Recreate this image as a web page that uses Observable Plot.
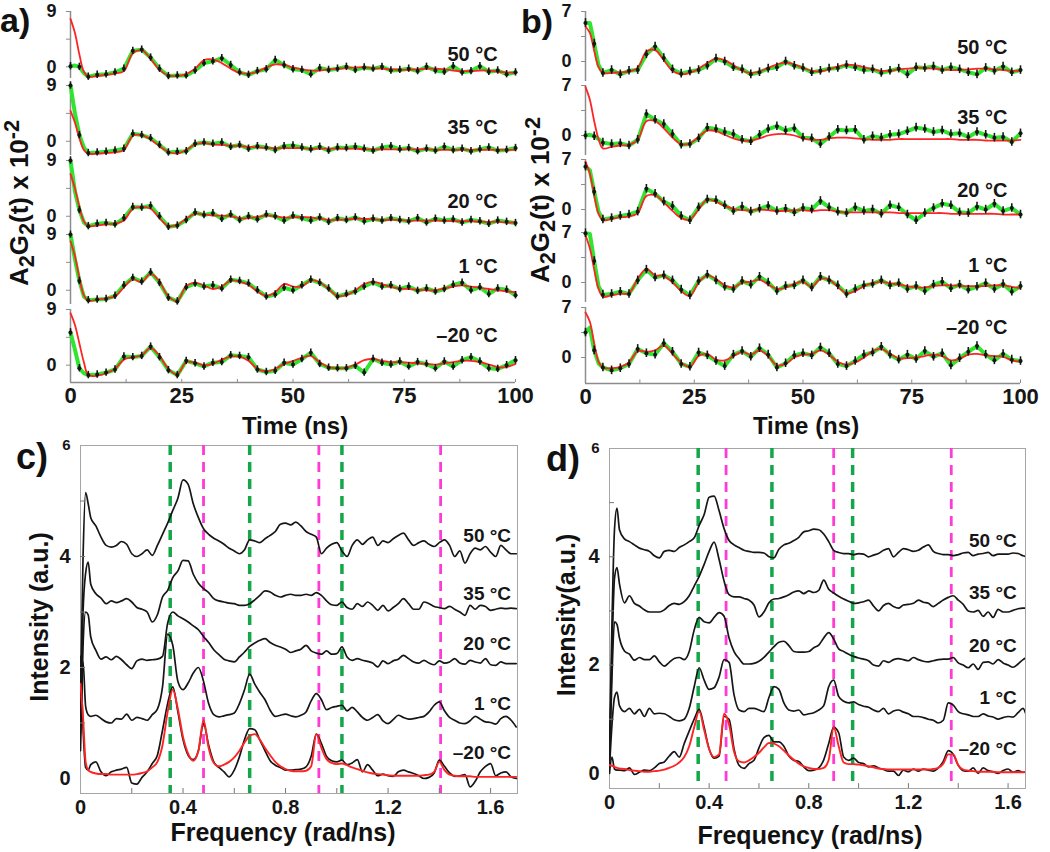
<!DOCTYPE html>
<html><head><meta charset="utf-8">
<script src="https://cdn.jsdelivr.net/npm/d3@7"></script>
<script src="https://cdn.jsdelivr.net/npm/@observablehq/plot@0.6"></script>
<style>
body{margin:0;background:#fff;}
#fig{position:relative;width:1050px;height:852px;overflow:hidden;font-family:"Liberation Sans",Arial,sans-serif;font-weight:bold;color:#111;}
#fig svg{position:absolute;overflow:visible;}
.lbl{position:absolute;white-space:nowrap;line-height:1.15;}
.rot{transform:translate(-50%,-50%) rotate(-90deg);}
.ctr{transform:translate(-50%,-50%);}
</style></head><body><div id="fig"></div>
<script>
// ---------------- data ----------------
const T = [0,1,2,3,4,6,8,10,12,14,16,18,20,22,24,26,28,30,32,34,36,38,40,42,44,46,48,50,52,54,56,58,60,62,64,66,68,70,72,74,76,78,80,82,84,86,88,90,92,94,96,98,100];
const temps = ["50 °C","35 °C","20 °C","1 °C","–20 °C"];

const a50fit = [7.8,5.5,2.0,-0.8,-1.6, -1.5,-1.3,-1.1,-0.7,2.2,2.7,1.3,-0.5,-1.4,-1.5, -1.2,-0.3,1.1,1.2,0.6,-0.3,-1.0,-1.1,-0.8,-0.1, 0.4,0.3,-0.1,-0.4,-0.6,-0.6,-0.4,-0.3,-0.2,-0.1, -0.1,-0.2,-0.3,-0.4,-0.5,-0.5,-0.4,-0.3,-0.3,-0.4, -0.6,-0.7,-0.7,-0.6,-0.6,-0.8,-0.9,-1.0];
const a50data = [0.1,0.2,0.0,-1.0,-1.6, -1.3,-1.2,-0.9,-0.3,2.6,2.8,1.5,-0.3,-1.5,-1.4, -1.4,-0.6,0.6,0.9,1.4,0.3,-0.9,-1.3,-0.7,-0.4, 1.1,0.3,-0.4,-0.5,-1.2,-0.2,-0.5,-0.3,0.0,-0.5, -0.1,-0.3,0.0,-0.6,-0.5,-0.3,-0.7,0.0,-0.6,-0.8, 0.1,-0.9,-0.7,0.1,-0.8,-0.6,-1.2,-0.9];
const a35fit = [4.9,3.0,0.5,-1.4,-2.0, -2.0,-1.9,-1.8,-1.4,0.9,1.0,0.3,-0.8,-1.7,-2.0, -1.4,-0.5,-0.3,-0.5,-0.6,-0.7,-0.8,-0.9,-1.0,-1.1, -1.1,-1.1,-1.1,-1.1,-1.2,-1.2,-1.2,-1.2,-1.2,-1.2, -1.3,-1.3,-1.3,-1.3,-1.3,-1.3,-1.3,-1.3,-1.4,-1.4, -1.4,-1.4,-1.4,-1.4,-1.4,-1.4,-1.4,-1.4];
const a35data = [9.0,4.5,1.0,-1.0,-1.9, -1.8,-1.7,-1.5,-1.2,1.2,1.0,0.5,-0.6,-1.8,-1.7, -1.6,-0.4,-0.2,-0.4,-0.2,-0.9,-0.6,-1.2,-0.8,-1.0, -1.4,-0.8,-0.7,-1.0,-1.3,-0.9,-1.5,-1.0,-1.1,-0.9, -1.2,-1.5,-1.0,-0.8,-1.3,-1.1,-1.6,-1.2,-1.5,-0.9, -1.4,-1.2,-1.6,-1.3,-1.0,-1.5,-1.4,-1.1];
const a20fit = [6.8,4.5,1.5,-0.8,-1.6, -1.5,-1.3,-1.2,-0.7,1.2,1.5,1.2,-0.3,-1.6,-1.4, -0.4,0.4,0.3,0.1,0.1,0.0,-0.3,-0.3,-0.1,0.1, 0.0,-0.2,-0.2,-0.1,-0.2,-0.4,-0.6,-0.6,-0.5,-0.4, -0.4,-0.5,-0.6,-0.6,-0.6,-0.7,-0.7,-0.7,-0.7,-0.7, -0.8,-0.8,-0.8,-0.9,-0.9,-0.9,-1.0,-1.0];
const a20data = [9.0,4.0,1.0,-1.0,-1.6, -1.2,-1.1,-1.3,-0.3,1.5,1.4,1.7,0.0,-1.7,-1.5, -0.6,0.6,0.2,0.5,-0.4,0.3,-0.6,0.0,-0.5,0.3, 0.0,-0.7,0.1,-0.3,-0.7,-0.2,-0.9,-0.3,-0.6,-0.2, -0.8,-0.4,-0.7,-0.3,-0.6,-0.8,-0.3,-1.0,-0.4,-0.7, -0.5,-1.0,-0.6,-0.8,-1.2,-0.7,-0.9,-1.1];
const a1fit = [7.9,5.5,2.0,-0.8,-1.7, -1.5,-1.3,-1.0,0.5,1.8,1.3,2.7,1.4,-1.0,-1.7, 0.7,1.2,0.8,0.2,0.6,1.6,1.4,0.9,-0.2,-0.9, -0.3,1.0,0.6,0.6,1.6,1.3,0.2,-0.9,-0.8,0.0, 1.0,1.4,1.0,0.5,0.3,0.2,0.1,0.0,0.0,0.3, 0.6,0.8,0.6,0.4,0.2,0.0,-0.2,-0.3];
const a1data = [9.0,5.0,1.5,-1.0,-1.6, -1.5,-1.4,-0.9,0.8,2.0,1.4,2.9,1.2,-1.2,-1.8, 0.5,1.1,0.6,0.8,0.3,1.7,1.5,1.1,0.0,-1.0, -0.7,0.4,0.0,0.8,1.7,1.2,0.3,-1.0,-0.6,-0.2, 0.6,1.3,0.6,0.8,0.2,0.6,-0.1,0.3,-0.2,0.2, 0.9,1.2,0.0,0.5,-0.6,0.3,0.1,-0.8];
const am20fit = [8.4,6.5,3.5,0.5,-1.6, -1.7,-1.3,-0.6,0.9,1.3,1.6,2.8,1.5,-0.6,-1.5, 0.5,0.4,0.0,0.2,0.9,1.4,1.4,0.7,-0.6,-1.0, -0.6,0.2,0.7,1.2,1.5,0.5,-0.3,-0.5,-0.4,0.1, 0.8,1.0,0.7,0.5,0.5,0.4,0.3,0.2,0.1,0.3, 0.5,0.7,0.7,0.5,0.1,-0.3,-0.3,0.2];
const am20data = [5.3,2.5,-0.5,-1.3,-1.6, -1.5,-1.2,-0.7,1.4,1.3,1.5,3.0,1.3,-0.8,-1.6, 0.7,0.3,-0.2,0.4,0.5,1.6,1.5,1.3,-0.7,-1.1, -0.9,0.4,0.1,1.0,2.0,0.2,-0.4,-0.5,-0.5,-0.1, -1.2,1.0,0.4,0.1,0.6,-0.2,0.5,0.2,-0.5,0.6, -0.2,0.8,1.3,0.6,-0.5,-0.6,0.0,0.8];

const b50fit = [4.9,4.0,1.5,-0.8,-1.6, -1.6,-1.5,-1.4,-0.9,1.4,1.6,0.2,-1.3,-1.8,-1.6, -1.0,-0.2,0.4,0.2,-0.5,-1.3,-1.6,-1.4,-0.9,-0.4, -0.2,-0.4,-0.9,-1.3,-1.4,-1.1,-0.7,-0.5,-0.5,-0.8, -1.1,-1.3,-1.3,-1.1,-1.0,-0.9,-0.9,-1.0,-1.1,-1.2, -1.2,-1.1,-1.0,-1.0,-1.1,-1.2,-1.3,-1.3];
const b50data = [5.4,5.4,2.5,-0.5,-1.6, -1.2,-1.8,-1.3,-1.2,1.0,2.1,0.5,-1.1,-1.7,-1.4, -1.2,-0.6,0.4,0.0,-0.8,-1.1,-1.8,-1.5,-1.0,-0.8, 0.0,-0.6,-0.9,-1.5,-1.3,-1.0,-0.9,-0.5,-0.8,-1.2, -1.1,-1.6,-1.3,-1.0,-1.8,-0.8,-0.9,-0.7,-1.2,-0.8, -1.1,-1.5,-1.8,-0.9,-1.3,-0.7,-1.5,-1.2];
const b35fit = [6.8,5.0,2.0,-0.5,-1.8, -1.6,-1.4,-1.3,-0.6,2.0,2.0,1.0,-0.3,-1.2,-1.1, -0.2,0.7,0.6,0.1,-0.4,-0.7,-0.7,-0.4,0.0,0.2, 0.2,0.0,-0.4,-0.6,-0.6,-0.4,-0.3,-0.3,-0.4,-0.5, -0.6,-0.6,-0.6,-0.5,-0.5,-0.5,-0.5,-0.5,-0.5,-0.5, -0.6,-0.6,-0.6,-0.7,-0.7,-0.7,-0.7,-0.6];
const b35data = [0.0,0.1,-0.1,-0.5,-1.0, -1.2,-1.1,-1.4,-0.6,3.0,2.2,1.6,0.2,-1.3,-1.2, -0.4,1.1,0.9,0.5,0.2,-0.6,-0.8,0.1,0.9,1.3, 0.7,1.0,-0.3,-0.4,-1.2,-0.2,0.8,0.7,0.8,-0.6, -0.1,-0.3,0.1,0.2,0.6,1.1,0.9,0.5,0.7,0.2, 0.3,-0.2,0.5,0.1,-0.3,-0.2,-0.9,0.3];
const b20fit = [6.7,5.0,2.0,-0.6,-1.5, -1.3,-1.1,-1.0,-0.5,1.9,2.0,1.0,-0.2,-1.2,-1.4, 0.0,1.4,1.1,0.5,0.1,-0.1,-0.1,0.0,-0.1,-0.2, -0.2,-0.1,-0.1,-0.2,-0.1,-0.1,-0.3,-0.4,-0.4,-0.4, -0.4,-0.4,-0.4,-0.5,-0.5,-0.5,-0.5,-0.5,-0.5,-0.6, -0.6,-0.6,-0.6,-0.6,-0.6,-0.7,-0.7,-0.7];
const b20data = [6.0,5.5,2.5,-0.3,-1.4, -1.2,-0.9,-0.7,-0.3,2.9,2.2,1.1,0.5,-0.9,-1.5, 0.3,1.4,1.3,0.6,-0.2,0.4,-0.3,0.1,0.5,-0.2, 0.1,-0.4,0.2,0.0,1.2,0.3,-0.3,-0.5,0.3,-0.2, 0.0,-0.6,0.6,0.3,-0.7,-1.5,-0.5,0.2,0.8,0.6, -0.4,-0.5,0.4,0.0,0.8,-0.2,0.2,-0.7];
const b1fit = [6.6,4.8,1.8,-0.9,-2.0, -1.8,-1.6,-1.5,0.5,1.9,1.0,0.9,0.0,-1.2,-1.9, 0.0,1.0,0.5,-0.4,-0.7,0.0,0.1,0.4,-0.3,-0.9, -0.7,-0.2,0.1,-0.6,0.5,0.4,-0.6,-1.5,-1.2,-0.5, -0.1,0.1,-0.1,-0.3,-0.5,-0.7,-0.7,-0.5,-0.4,-0.4, -0.5,-0.5,-0.5,-0.5,-0.4,-0.4,-0.6,-0.8];
const b1data = [6.9,6.8,3.0,-0.5,-1.7, -1.6,-1.3,-1.6,0.3,1.8,0.7,1.0,0.3,-1.0,-1.8, 0.2,1.1,0.3,-0.6,-0.9,0.2,-0.3,0.8,0.0,-1.2, -0.5,-0.4,0.3,-0.7,0.8,0.3,-0.4,-1.6,-0.9,-0.4, -0.2,0.3,-0.4,-0.1,-0.9,-0.5,-1.2,-0.3,0.1,-0.8, -0.3,-1.0,-0.6,-0.1,-0.9,-0.2,-1.3,-0.5];
const bm20fit = [6.3,5.0,2.0,-0.6,-1.4, -1.5,-1.3,-0.7,0.9,0.8,1.0,1.7,0.5,-0.7,-1.3, 0.2,0.5,-0.3,-0.4,0.2,0.8,0.4,1.0,0.2,-1.1, -0.9,0.0,0.4,0.5,1.0,0.4,-0.6,-1.0,-0.7,0.0, 0.9,1.2,0.5,-0.1,-0.1,0.0,0.2,0.4,0.2,-0.4, -0.2,0.4,0.5,0.3,0.2,0.1,-0.4,-0.6];
const bm20data = [3.5,4.2,1.0,-0.8,-1.4, -1.8,-1.5,-0.9,1.2,0.6,0.4,2.0,0.8,-0.9,-1.3, 0.7,0.3,-0.5,-1.2,0.4,0.9,0.1,1.3,0.4,-1.4, -0.8,0.3,0.6,0.3,1.4,0.6,-0.9,-1.2,-0.5,0.4, 0.7,1.5,0.4,-0.3,0.4,-0.2,0.9,0.1,0.6,-1.1, -0.1,0.8,1.6,0.4,-0.4,0.5,-0.3,-0.5];

// frequency grid (rad/ns)
const F = [0,0.01,0.02,0.03,0.04, 0.06,0.08,0.10,0.12,0.14,0.16,0.18,0.20,0.22,0.24, 0.26,0.28,0.30,0.32,0.34,0.36,0.38,0.40,0.42,0.44, 0.46,0.48,0.50,0.52,0.54,0.56,0.58,0.60,0.62,0.64, 0.66,0.68,0.70,0.72,0.74,0.76,0.78,0.80,0.82,0.84, 0.86,0.88,0.90,0.92,0.94,0.96,0.98,1.00,1.02,1.04, 1.06,1.08,1.10,1.12,1.14,1.16,1.18,1.20,1.22,1.24, 1.26,1.28,1.30,1.32,1.34,1.36,1.38,1.40,1.42,1.44, 1.46,1.48,1.50,1.52,1.54,1.56,1.58,1.60,1.62,1.64, 1.66,1.68,1.70];

const c50 = [1.5,4.0,5.15,4.95,4.7, 4.55,4.35,4.2,4.17,4.2,4.27,4.22,4.05,4.0,4.05, 4.12,4.02,4.2,4.4,4.6,4.83,5.05,5.38,5.3,4.95, 4.7,4.5,4.4,4.33,4.28,4.22,4.15,4.1,4.05,4.12, 4.3,4.28,4.25,4.32,4.38,4.45,4.58,4.6,4.57,4.62, 4.55,4.45,4.4,4.35,4.05,4.15,4.22,4.25,4.1,4.0, 4.2,4.3,4.22,4.3,4.35,4.2,4.28,4.25,4.32,4.38, 4.42,4.3,4.2,4.25,4.28,4.22,4.18,4.25,4.3,4.2, 4.0,4.1,3.88,4.05,4.15,4.12,4.18,4.08,4.0,4.2, 4.12,4.05,4.05];
const c35 = [1.0,3.0,3.7,3.9,3.5, 3.33,3.25,3.15,3.2,3.17,3.2,3.24,3.18,3.08,3.05, 3.0,2.82,2.95,3.27,3.39,3.62,3.74,3.93,3.92,3.68, 3.52,3.42,3.35,3.24,3.2,3.18,3.16,3.15,3.12,3.12, 3.15,3.22,3.3,3.38,3.36,3.3,3.27,3.3,3.32,3.3, 3.3,3.32,3.3,3.35,3.3,3.2,3.13,3.12,3.18,3.08, 3.05,3.15,3.1,3.18,3.12,3.03,3.12,3.02,3.08,3.15, 3.24,3.15,3.05,3.05,3.18,3.15,3.1,3.08,3.06,3.1, 3.05,3.0,2.94,3.12,3.05,3.12,3.1,3.03,3.05,3.07, 3.06,3.07,3.06];
const c20 = [0.5,2.4,3.0,2.95,2.55, 2.31,2.15,2.19,2.14,2.2,2.14,2.05,1.98,2.12,2.15, 2.13,2.14,2.15,2.2,2.8,3.0,2.93,2.88,2.82,2.75, 2.68,2.56,2.45,2.32,2.23,2.15,2.12,2.1,2.19,2.28, 2.38,2.44,2.49,2.52,2.45,2.4,2.37,2.33,2.27,2.3, 2.33,2.4,2.3,2.26,2.24,2.3,2.24,2.25,2.37,2.19, 2.13,2.16,2.13,2.11,2.08,2.01,2.12,2.07,2.12,2.15, 2.22,2.16,2.1,2.08,2.13,2.08,2.05,2.12,2.08,2.1, 2.16,2.08,2.06,2.13,2.1,2.08,2.16,2.05,2.04,2.1, 2.07,2.07,2.07];
const c1 = [0.8,2.1,1.3,1.15,1.12, 1.14,1.08,1.02,1.0,1.08,1.07,1.16,1.05,1.1,1.08, 1.05,1.15,1.25,1.65,2.6,2.4,1.75,1.6,1.72,1.9, 2.0,1.75,1.35,1.15,1.11,1.13,1.15,1.18,1.35,1.6, 1.88,1.7,1.55,1.42,1.23,1.12,1.14,1.16,1.13,1.11, 1.14,1.2,1.4,1.53,1.42,1.24,1.28,1.3,1.32,1.22, 1.28,1.2,1.1,1.05,1.1,1.15,1.04,0.99,1.06,1.14, 1.1,1.07,1.08,1.1,1.12,1.2,1.32,1.38,1.22,1.1, 1.05,1.0,0.99,1.04,1.12,1.07,1.02,1.01,0.98,1.08, 1.12,1.05,0.93];
const cm20 = [2.2,0.9,0.2,0.15,0.25, 0.3,0.12,0.05,0.12,0.15,0.17,0.2,-0.08,-0.1,0.02, 0.12,0.27,0.42,0.87,1.35,1.65,1.2,0.7,0.42,0.34, 0.5,0.99,0.6,0.3,0.2,0.12,0.03,0.15,0.39,0.7, 0.9,0.88,0.69,0.5,0.32,0.24,0.2,0.15,0.15,0.16, 0.17,0.21,0.4,0.8,0.63,0.4,0.32,0.3,0.33,0.25, 0.28,0.34,0.12,0.25,0.15,0.05,0.08,0.05,0.04,0.12, 0.15,0.12,0.09,0.05,0.0,0.02,0.1,0.33,0.22,0.1, 0.04,0.05,0.07,-0.15,-0.05,0.12,0.22,0.27,0.05,0.1, 0.12,0.03,0.0];
const cFit = [1.71,1.1,0.3,0.15,0.12, 0.09,0.08,0.08,0.07,0.07,0.07,0.07,0.07,0.08,0.1, 0.13,0.2,0.3,0.6,1.2,1.6,1.25,0.75,0.45,0.32, 0.5,1.05,0.55,0.28,0.22,0.25,0.3,0.38,0.5,0.65, 0.77,0.8,0.7,0.55,0.42,0.3,0.22,0.17,0.14,0.13, 0.13,0.14,0.22,0.8,0.55,0.35,0.28,0.26,0.27,0.24, 0.2,0.17,0.14,0.11,0.09,0.08,0.07,0.06,0.05,0.05, 0.05,0.05,0.05,0.05,0.06,0.07,0.12,0.3,0.15,0.07, 0.05,0.04,0.04,0.04,0.03,0.03,0.03,0.03,0.03,0.03, 0.03,0.03,0.03];

const d50 = [0.5,2.8,4.5,4.9,4.5, 4.33,4.28,4.22,4.16,4.13,4.1,4.02,3.98,4.1,4.12, 4.1,4.17,4.22,4.28,4.35,4.58,4.78,5.1,5.12,4.85, 4.52,4.3,4.22,4.17,4.12,4.1,4.08,4.08,4.07,4.0, 3.98,4.14,4.22,4.25,4.3,4.36,4.46,4.48,4.51,4.5, 4.42,4.28,4.12,4.08,4.06,4.06,4.04,4.06,4.05,4.0, 4.03,4.06,4.12,4.15,4.0,4.08,4.15,4.13,4.1,4.12, 4.18,4.22,4.1,4.06,4.04,4.04,4.02,4.04,4.07,4.08, 4.02,4.05,4.06,4.08,4.02,4.05,4.05,4.05,4.07,4.06, 4.02,4.0,4.0];
const d35 = [0.3,2.2,3.6,3.8,3.5, 3.15,3.28,3.14,3.09,3.02,2.98,2.98,2.98,3.02,3.1, 3.14,3.12,3.17,3.28,3.46,3.64,3.86,4.1,4.27,3.95, 3.55,3.3,3.26,3.26,3.23,3.2,3.11,2.89,2.98,3.15, 3.22,3.23,3.26,3.3,3.35,3.37,3.32,3.37,3.34,3.38, 3.57,3.4,3.33,3.27,3.22,3.18,3.14,3.15,3.17,3.2, 3.09,3.0,3.1,3.14,3.08,3.05,3.11,3.12,3.14,3.2, 3.16,3.14,3.08,3.14,3.2,3.25,3.28,3.2,3.12,3.0, 2.98,3.01,2.9,2.98,2.88,3.03,2.98,2.98,3.01,3.04, 3.05,3.05,3.05];
const d20 = [0.2,1.8,2.8,2.75,2.5, 2.26,2.2,2.09,2.14,2.1,2.1,2.17,2.06,1.98,2.05, 2.12,2.14,2.1,2.25,2.65,2.88,2.8,2.78,2.88,2.97, 2.9,2.5,2.25,2.12,2.02,2.02,2.03,2.07,2.14,2.24, 2.34,2.42,2.44,2.36,2.25,2.24,2.24,2.25,2.32,2.37, 2.5,2.6,2.48,2.3,2.25,2.2,2.16,2.13,2.11,2.08, 2.0,1.98,2.08,2.05,2.1,2.12,2.1,2.08,2.14,2.1, 2.07,2.06,2.08,2.1,2.11,2.11,2.14,2.04,2.0,1.95, 2.02,1.92,2.05,2.06,2.02,2.1,2.04,2.0,1.96,2.02, 2.1,2.15,2.15];
const d1 = [0.1,0.9,1.4,1.5,1.25, 1.14,1.2,1.1,1.18,1.05,1.2,1.1,1.11,1.1,1.05, 0.99,0.97,1.0,1.2,1.6,1.95,1.72,1.55,1.58,1.78, 2.1,2.05,1.45,1.17,1.14,1.2,1.2,1.17,1.14,1.4, 1.6,1.55,1.3,1.17,1.15,1.17,1.08,1.1,1.12,1.17, 1.25,1.6,1.72,1.42,1.33,1.3,1.32,1.27,1.24,1.22, 1.17,1.14,1.2,1.1,1.15,1.17,1.13,1.1,1.05,1.05, 1.03,1.0,0.98,0.93,0.98,1.3,1.26,1.14,1.1,1.08, 1.05,1.05,1.1,1.06,1.04,1.0,1.03,1.05,1.04,1.12, 1.2,1.02,1.0];
const dm20 = [0.0,0.3,0.08,0.06,0.06, 0.05,0.1,-0.02,0.02,0.06,0.05,0.1,0.18,0.21,0.32, 0.4,0.3,0.55,0.78,1.0,1.18,0.85,0.45,0.28,0.32, 1.05,1.0,0.45,0.15,0.09,0.18,0.24,0.47,0.66,0.7, 0.58,0.58,0.5,0.32,0.24,0.22,0.12,0.05,0.06,0.1, 0.25,0.55,0.85,0.75,0.3,0.24,0.28,0.2,0.18,0.12, 0.14,0.1,0.07,0.04,0.04,-0.04,0.06,0.03,0.08,0.04, 0.08,0.06,0.04,0.1,0.22,0.42,0.35,0.15,0.05,0.04, 0.1,0.0,0.1,0.05,0.03,0.0,0.05,0.08,0.02,0.05, 0.02,0.03,0.03];
const dFit = [0.15,0.14,0.12,0.1,0.09, 0.08,0.06,0.05,0.04,0.03,0.03,0.04,0.05,0.07,0.1, 0.14,0.2,0.3,0.5,0.85,1.15,0.8,0.45,0.3,0.35, 1.1,0.9,0.4,0.22,0.2,0.24,0.3,0.38,0.48,0.56, 0.55,0.5,0.42,0.33,0.25,0.18,0.13,0.1,0.08,0.08, 0.1,0.25,0.85,0.5,0.2,0.17,0.17,0.16,0.15,0.13, 0.11,0.09,0.08,0.07,0.07,0.07,0.07,0.07,0.07,0.07, 0.07,0.07,0.08,0.1,0.18,0.35,0.35,0.15,0.07,0.05, 0.04,0.03,0.03,0.03,0.03,0.02,0.02,0.02,0.02,0.02, 0.02,0.02,0.02];

// reference frequencies (dashed lines)
const cGreen = [0.35, 0.66, 1.02], cMagenta = [0.48, 0.93, 1.405];
const dGreen = [0.356, 0.652, 0.976], dMagenta = [0.468, 0.90, 1.372];
const timeTicks = [0, 25, 50, 75, 100];
const freqTicks = [0, 0.4, 0.8, 1.2, 1.6];
const intensityTicks = [0, 2, 4, 6];

// ---------------- layout ----------------
const FONT = '"Liberation Sans", Arial, sans-serif';
const fig = document.getElementById("fig");
const GREEN = "#2fe52f", RED = "#ff2424", INK = "#161616", AXIS = "#8c8c8c";

function place(svg, left, top) { svg.style.left = left + "px"; svg.style.top = top + "px"; fig.appendChild(svg); }
function label(html, x, y, size, cls) {
  const d = document.createElement("div");
  d.className = "lbl " + cls; d.innerHTML = html;
  d.style.left = x + "px"; d.style.top = y + "px"; d.style.fontSize = size + "px";
  fig.appendChild(d);
}

const bad = [];
function timeSub(L, i, data, fit) {
  if (data.length !== T.length || fit.length !== T.length) bad.push(L.name + i);
  const last = i === 4;
  const mT = 10, mB = last ? 44 : 4, mR = 20;
  const h = last ? L.lastH : (i === 0 ? L.firstH : L.plotH);
  const yMin = last ? L.lastYMin : (i === 0 ? L.firstYMin : L.yMin);
  const idx = T.map((t, k) => k).filter(k => T[k] % 2 === 0);
  const marks = [
    Plot.ruleX([0], {stroke: AXIS, strokeWidth: 1.5}),
    Plot.axisY([0, L.yTop], {tickSize: 4, tickPadding: 10, stroke: AXIS, fill: INK, fontSize: 18}),
    Plot.axisY([L.yTop / 2], {tickSize: 4, tickFormat: () => "", stroke: AXIS}),
    Plot.line(T, {x: T, y: data, stroke: GREEN, strokeWidth: 4, strokeLinejoin: "round"}),
    Plot.line(T, {x: T, y: fit, stroke: RED, strokeWidth: 1.8, curve: "catmull-rom"}),
    Plot.ruleX(idx, {x: k => T[k], y1: k => data[k] - 0.6, y2: k => data[k] + 0.6, stroke: INK, strokeWidth: 1.6}),
    Plot.dot(idx, {x: k => T[k], y: k => data[k], r: 2, fill: INK}),
    Plot.text([temps[i]], {x: L.labelX, y: L.labelY[i], text: d => d, textAnchor: "end", fontSize: 20, fill: INK})
  ];
  if (last) {
    marks.push(
      Plot.ruleY([yMin], {stroke: AXIS, strokeWidth: 1.5}),
      Plot.ruleX([12.5, 25, 37.5, 50, 62.5, 75, 87.5, 100], {y1: yMin, y2: yMin + 0.5, stroke: AXIS}),
      Plot.axisX(timeTicks, {tickSize: 0, tickPadding: 5, fontSize: 22, fill: INK})
    );
  }
  const svg = Plot.plot({
    width: L.mL + L.plotW + mR, height: mT + h + mB,
    marginLeft: L.mL, marginRight: mR, marginTop: mT, marginBottom: mB,
    x: {domain: [0, 100], axis: null},
    y: {domain: [yMin, L.yTop], axis: null},
    style: {fontFamily: FONT, fontWeight: "bold", background: "transparent", overflow: "visible"},
    marks
  });
  place(svg, L.left, L.tops[i] - mT);
}

const layoutA = {name: "a", left: 0, mL: 70, plotW: 445, tops: [11, 85, 160, 234, 309], yTop: 9, yMin: -2.3, firstYMin: -1.9, firstH: 67, lastYMin: -2.8, plotH: 70, lastH: 73, labelX: 96, labelY: [2.0, 2.2, 2.4, 3.8, 4.8]};
const layoutB = {name: "b", left: 515, mL: 70, plotW: 435, tops: [11, 85, 159, 232, 307], yTop: 7, yMin: -2.8, firstYMin: -2.8, firstH: 70, lastYMin: -3.64, plotH: 70, lastH: 76, labelX: 97, labelY: [1.95, 2.5, 2.65, 2.4, 4.2]};

[[a50data, a50fit], [a35data, a35fit], [a20data, a20fit], [a1data, a1fit], [am20data, am20fit]]
  .forEach(([d, f], i) => timeSub(layoutA, i, d, f));
[[b50data, b50fit], [b35data, b35fit], [b20data, b20fit], [b1data, b1fit], [bm20data, bm20fit]]
  .forEach(([d, f], i) => timeSub(layoutB, i, d, f));

function specPanel(L, curves, fit, greens, magentas) {
  curves.concat([fit]).forEach((c, k) => { if (c.length !== F.length) bad.push(L.name + k); });
  const yMin = L.yDomain[0];
  const marks = [
    Plot.frame({stroke: "#a5a5a5"}),
    Plot.ruleX(greens, {stroke: "#13a64a", strokeWidth: 3.5, strokeDasharray: "10,7"}),
    Plot.ruleX(magentas, {stroke: "#ff3bd6", strokeWidth: 2.8, strokeDasharray: "10,7"}),
    ...curves.map(c => Plot.line(F, {x: F, y: c, stroke: INK, strokeWidth: 1.7, curve: "monotone-x", clip: true})),
    Plot.line(F, {x: F, y: fit, stroke: RED, strokeWidth: 1.9, curve: "monotone-x", clip: true}),
    Plot.ruleY([1, 2, 3, 4, 5], {x1: 0, x2: 0.02, stroke: "#777"}),
    Plot.ruleX([0.2, 0.4, 0.6, 0.8, 1.0, 1.2, 1.4, 1.6], {y1: yMin, y2: yMin + 0.09, stroke: "#777"}),
    Plot.axisX(freqTicks, {tickSize: 0, tickPadding: 6, fontSize: 20, fill: INK, tickFormat: d => d === 0 ? "0" : d.toFixed(1)}),
    Plot.axisY(intensityTicks, {tickSize: 0, tickPadding: 10, fontSize: d => d === 6 ? 15 : 20, fill: INK, tickFormat: d => String(d)}),
    Plot.text(temps, {x: L.labelX, y: L.labelY, text: d => d, textAnchor: "end", fontSize: 19, fill: INK})
  ];
  const svg = Plot.plot({
    width: L.width, height: L.height,
    marginLeft: L.mL, marginRight: L.mR, marginTop: L.mT, marginBottom: L.mB,
    x: {domain: L.xDomain, axis: null},
    y: {domain: L.yDomain, axis: null},
    style: {fontFamily: FONT, fontWeight: "bold", background: "transparent", overflow: "visible"},
    marks
  });
  place(svg, L.left, L.top);
}

specPanel({name: "c", left: 0, top: 430, width: 530, height: 422, mL: 80, mR: 13, mT: 15, mB: 59,
  xDomain: [0, 1.705], yDomain: [-0.27, 6], labelX: 1.68, labelY: [4.38, 3.33, 2.43, 1.35, 0.47]},
  [c50, c35, c20, c1, cm20], cFit, cGreen, cMagenta);
specPanel({name: "d", left: 520, top: 430, width: 530, height: 422, mL: 89, mR: 25, mT: 18, mB: 64,
  xDomain: [0, 1.67], yDomain: [-0.28, 6], labelX: 1.635, labelY: [4.3, 3.34, 2.36, 1.4, 0.46]},
  [d50, d35, d20, d1, dm20], dFit, dGreen, dMagenta);

// ---------------- titles ----------------
label("a)", 0, 1, 34, "");
label("b)", 521, 2, 34, "");
label("c)", 16, 436, 36, "");
label("d)", 546, 438, 36, "");
label("A<sub>2</sub>G<sub>2</sub>(t) x 10<sup>-2</sup>", 20, 203, 26, "rot");
label("A<sub>2</sub>G<sub>2</sub>(t) x 10<sup>-2</sup>", 541, 200, 26, "rot");
label("Time (ns)", 295, 426, 24, "ctr");
label("Time (ns)", 806, 426, 24, "ctr");
label("Intensity (a.u.)", 39, 617, 25, "rot");
label("Intensity(a.u.)", 566, 615, 25, "rot");
label("Frequency (rad/ns)", 283, 832, 25, "ctr");
label("Frequency (rad/ns)", 810, 835, 25, "ctr");
if (bad.length) label("LENGTH MISMATCH: " + bad.join(","), 300, 440, 20, "");
</script></body></html>
